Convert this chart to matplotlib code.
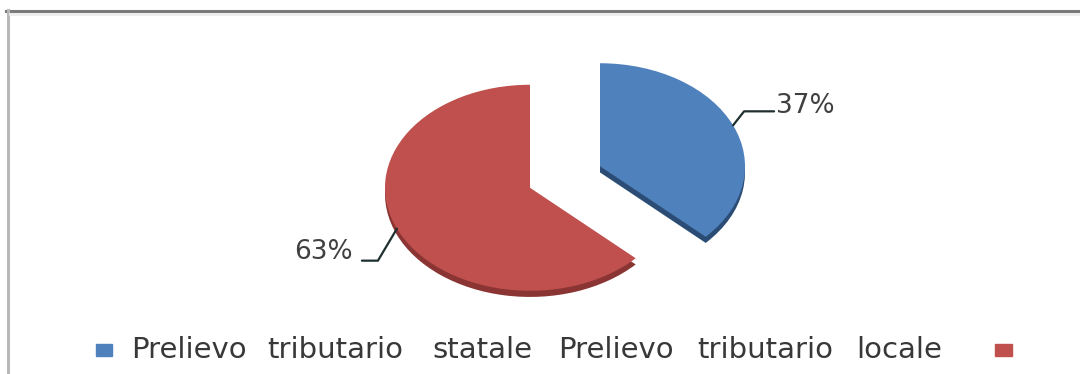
import numpy as np
import matplotlib
matplotlib.use("Agg")
import matplotlib.pyplot as plt
from matplotlib.patches import Rectangle
from matplotlib.lines import Line2D

# data
labels = ['Prelievo tributario statale', 'Prelievo tributario locale']
shares = [37, 63]
pct_labels = ['37%', '63%']
colors = ['#4f81bd', '#c0504d']
side_colors = ['#2b4c74', '#8a3533']

W, H = 1080, 374
fig = plt.figure(figsize=(W / 100, H / 100), dpi=100)
ax = fig.add_axes([0, 0, 1, 1])

# pixel geometry of the tilted pie
cx, cy = 565, 177      # pie centre in pixels (from top)
rx, ry = 145, 103      # pixels per unit
depth = 0.06
explode = [0.263, 0.263]

# side (thickness) first, then the top face
ax.pie(shares, explode=explode, colors=side_colors, startangle=90,
       counterclock=False, center=(0, -depth), wedgeprops=dict(linewidth=0))
wedges, _ = ax.pie(shares, explode=explode, colors=colors, startangle=90,
                   counterclock=False, wedgeprops=dict(linewidth=0))
ax.set_aspect('auto')
ax.set_xlim(-cx / rx, (W - cx) / rx)
ax.set_ylim(-(H - cy) / ry, cy / ry)
ax.axis('off')

# leader lines and percentage labels
leader = [((11, 14), (41, 14), (2, 19), 'left'),
          ((-19, -32), (-35, -32), (-9, -23), 'right')]
for w, txt, (e1, e2, toff, ha) in zip(wedges, pct_labels, leader):
    mid = np.deg2rad((w.theta1 + w.theta2) / 2)
    c = w.center
    sx, sy = c[0] + np.cos(mid), c[1] + np.sin(mid)
    xs = [sx, sx + e1[0] / rx, sx + e2[0] / rx]
    ys = [sy, sy + e1[1] / ry, sy + e2[1] / ry]
    ax.plot(xs, ys, color='#1f2f2f', lw=1.6, solid_capstyle='round')
    ax.text(xs[-1] + toff[0] / rx, sy + toff[1] / ry, txt, ha=ha, va='center',
            fontsize=19, color='#404040')

# legend drawn by hand (blue square, label text, red square)
# the reference legend text is stretched wide, so each word is centred on
# the span it covers there
word_centres = [[189, 335, 482], [616, 765, 899]]
for lab, centres in zip(labels, word_centres):
    for word, xc in zip(lab.split(), centres):
        fig.text(xc / W, 1 - 358 / H, word, ha='center', va='baseline',
                 fontsize=21, color='#383838')
fig.patches.append(Rectangle((96 / W, 1 - 356 / H), 16 / W, 12 / H,
                             transform=fig.transFigure, color=colors[0]))
fig.patches.append(Rectangle((995 / W, 1 - 356 / H), 17 / W, 12 / H,
                             transform=fig.transFigure, color=colors[1]))

# chart frame
fig.lines.append(Line2D([6 / W, 1], [1 - 10.5 / H] * 2, transform=fig.transFigure,
                        color='#7a7a7a', lw=2.2))
fig.lines.append(Line2D([7.5 / W] * 2, [0, 1 - 10 / H], transform=fig.transFigure,
                        color='#b8b8b8', lw=2.2))
fig.lines.append(Line2D([10 / W, 1], [1 - 14 / H] * 2, transform=fig.transFigure,
                        color='#ececec', lw=2))

fig.savefig('out.png', dpi=100)
